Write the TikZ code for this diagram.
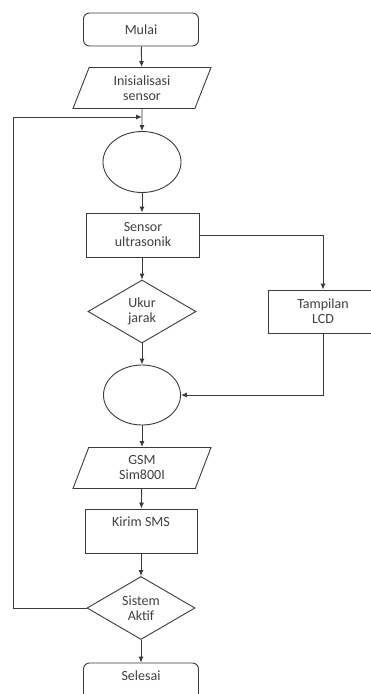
\documentclass[tikz,border=0pt]{standalone}
\usepackage{fontspec}
\setmainfont{Carlito}
\usetikzlibrary{shapes.geometric,arrows.meta}
\definecolor{ln}{HTML}{3A3A3A}
\definecolor{tx}{HTML}{404040}
\tikzset{
  base/.style={draw=ln, line width=0.9pt, text=tx, font=\fontsize{14}{15}\selectfont, align=center, inner sep=0pt},
  term/.style={base, rectangle, rounded corners=6pt, minimum width=115pt, minimum height=33pt},
  proc/.style={base, rectangle, minimum width=112pt, minimum height=44pt},
  io/.style={base, trapezium, trapezium left angle=57, trapezium right angle=123, trapezium stretches body, minimum width=138pt, minimum height=41pt},
  conn/.style={base, ellipse, minimum width=78pt, minimum height=61pt},
  dec/.style={base, diamond, minimum width=108pt, minimum height=63pt},
  arr/.style={draw=ln, line width=0.9pt, -{Latex[length=6pt,width=5pt]}},
}
\begin{document}
\begin{tikzpicture}[x=1pt,y=-1pt]
\useasboundingbox (0,0) rectangle (371,694);
\clip (0,0) rectangle (371,694);
\node[term] (mulai) at (141,29.5) {Mulai};
\node[io] (inis) at (142,88) {Inisialisasi\\sensor};
\node[conn] (c1) at (142,162) {};
\node[proc, minimum width=113pt] (sensor) at (143,235) {Sensor\\ultrasonik};
\node[dec] (ukur) at (142,311.5) {Ukur\\jarak};
\node[proc, minimum width=110pt, minimum height=43pt] (lcd) at (323,311.5) {Tampilan\\LCD};
\node[conn, minimum width=77pt, minimum height=60pt] (c2) at (142,395) {};
\node[io] (gsm) at (142,468) {GSM\\Sim800I};
\node[proc] (kirim) at (141,531) {Kirim SMS\\\strut};
\node[dec] (sist) at (141,608) {Sistem\\Aktif};
\node[term, minimum height=44pt] (sel) at (141,685) {Selesai\\\strut};
\coordinate (lc) at (13,117);
\coordinate (lj) at (142,117);
\draw[arr] (mulai) -- (inis);
\draw[arr] (inis) -- (c1);
\draw[arr] (c1) -- (sensor.north -| c1);
\draw[arr] (sensor.south -| ukur) -- (ukur);
\draw[arr] (ukur) -- (c2);
\draw[arr] (sensor.east) -| (lcd.north);
\draw[arr] (lcd.south) |- (c2.east);
\draw[arr] (c2) -- (gsm);
\draw[arr] (gsm) -- (kirim);
\draw[arr] (kirim) -- (sist);
\draw[arr] (sist) -- (sel);
\draw[arr] (sist.west) -| (lc) -- (lj);
\end{tikzpicture}
\end{document}
